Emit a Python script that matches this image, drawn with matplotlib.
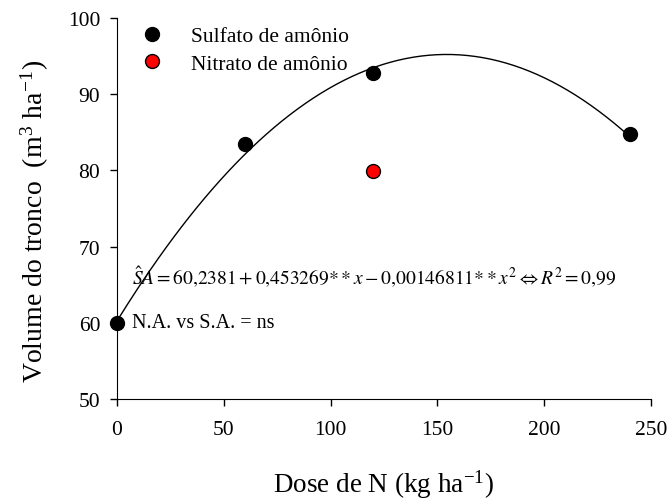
import matplotlib
matplotlib.use("Agg")
import matplotlib.pyplot as plt
import numpy as np

# data
dose_sa = [0, 60, 120, 240]
vol_sa = [60.0, 83.5, 92.8, 84.8]
dose_na = [120]
vol_na = [79.9]
# fitted coefficients from the equation shown in the chart
b0, b1, b2 = 60.2381, 0.453269, -0.00146811

plt.rcParams['font.family'] = ['Liberation Serif', 'DejaVu Serif']
plt.rcParams['mathtext.fontset'] = 'stix'

f = plt.figure(figsize=(6.67, 5.02), dpi=100)
ax = f.add_axes([0.1754, 0.2032, 0.8006, 0.7588])

xs = np.linspace(0, 240, 200)
ax.plot(xs, b0 + b1*xs + b2*xs**2, color='black', linewidth=1.0, zorder=2)
ax.plot(dose_sa, vol_sa, 'o', color='black', markersize=10, label='Sulfato de amônio',
        zorder=3, clip_on=False)
ax.plot(dose_na, vol_na, 'o', color='red', markeredgecolor='black', markersize=10,
        label='Nitrato de amônio', zorder=3)

ax.set_xlim(0, 250)
ax.set_ylim(50, 100)
ax.set_xticks([0, 50, 100, 150, 200, 250])
ax.set_yticks([50, 60, 70, 80, 90, 100])
ax.tick_params(direction='out', labelsize=15.5, length=5, width=1)
ax.tick_params(axis='x', pad=10)
ax.tick_params(axis='y', pad=7)
ax.spines['top'].set_visible(False)
ax.spines['right'].set_visible(False)

ax.set_xlabel('Dose de N (kg ha$^{\\mathregular{-1}}$)', fontsize=19.5, labelpad=20)
ax.set_ylabel('Volume do tronco  (m$^{\\mathregular{3}}$ ha$^{\\mathregular{-1}}$)', fontsize=20, labelpad=12)
ax.yaxis.label.set_y(0.47)

ax.legend(loc='upper left', bbox_to_anchor=(-0.011, 1.03), frameon=False, fontsize=15.5,
          handletextpad=0.8, labelspacing=0.35)

ax.text(7, 65.0, r'$\hat{S}A = 60{,}2381 + 0{,}453269{**}x - 0{,}00146811{**}x^2 \Leftrightarrow R^2 = 0{,}99$',
        fontsize=14)
ax.text(7, 59.4, 'N.A. vs S.A. = ns', fontsize=14.5)

plt.savefig('out.png', dpi=100)
